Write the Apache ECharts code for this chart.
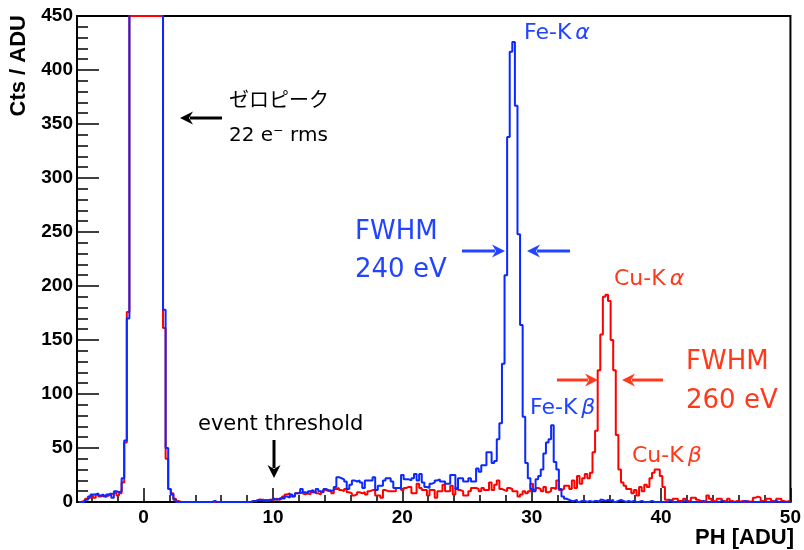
<!DOCTYPE html>
<html>
<head>
<meta charset="utf-8">
<script src="https://cdn.jsdelivr.net/npm/echarts@6/dist/echarts.min.js"></script>
<style>
  html, body { margin: 0; padding: 0; background: #fff; }
  #chart { width: 804px; height: 550px; }
</style>
</head>
<body>
<div id="chart"></div>
<script>
// histogram binning: 0.2 ADU bins, first bin centred at -5.0
const BIN_START = -5.0;
const BIN_WIDTH = 0.2;

// Fe (blue) counts per bin, 5 bins per ADU
const FE_COUNTS = [
  0, 0, 0, 2, 5,        7, 7, 8, 6, 7,           // -5, -4
  5, 7, 8, 4, 10,       9, 10, 22, 57, 170,      // -3, -2
  950, 2300, 3600, 4300, 4600,  4500, 4100, 3500, 2700, 1900, // -1, 0
  1200, 780, 520, 178, 50,      12, 7, 2, 0, 0,  // 1, 2
  0, 0, 0, 0, 0,        0, 0, 0, 0, 0,           // 3, 4
  0, 0, 1, 0, 0,        0, 0, 0, 0, 0,           // 5, 6
  0, 0, 0, 0, 0,        0, 0, 1, 1, 2,           // 7, 8
  2, 1, 2, 1, 2,        3, 2, 3, 4, 3,           // 9, 10
  5, 4, 7, 5, 8,        8, 12, 9, 8, 10,         // 11, 12
  11, 9, 12, 10, 9,     12, 11, 10, 11, 14,      // 13, 14
  23, 22, 21, 19, 12,   16, 20, 19, 20, 18,      // 15, 16
  13, 20, 20, 20, 23,   11, 15, 15, 20, 22,      // 17, 18
  22, 19, 13, 13, 13,   25, 21, 21, 20, 22,      // 19, 20
  26, 20, 26, 18, 14,   13, 17, 18, 20, 21,      // 21, 22
  19, 19, 17, 17, 25,   25, 12, 22, 22, 19,      // 23, 24
  19, 22, 19, 19, 31,   28, 34, 34, 46, 46,      // 25, 26
  36, 38, 58, 73, 128,  210, 338, 417, 426, 367, // 27, 28
  248, 164, 79, 36, 22, 12, 10, 21, 24, 30,      // 29, 30
  45, 55, 58, 71, 37,   30, 12, 5, 3, 2,         // 31, 32
  1, 1, 2, 0, 1,        1, 0, 1, 0, 1,           // 33, 34
  1, 0, 2, 1, 2,        1, 2, 0, 1, 2,           // 35, 36
  1, 0, 1, 0, 1,        0, 0, 1, 0, 0,           // 37, 38
  0, 1, 0, 0, 0,        0, 0, 0, 1, 0,           // 39, 40
  0, 0, 0, 0, 1,        0, 0, 0, 0, 0,           // 41, 42
  0, 1, 0, 0, 0,        0, 0, 0, 1, 0,           // 43, 44
  0, 0, 0, 0, 0,        0, 0, 1, 0, 0,           // 45, 46
  0, 0, 0, 0, 0,        0, 0, 0, 0, 1,           // 47, 48
  0, 0, 0, 0, 0,        0                        // 49, 50
];

// Cu (red) counts per bin; the zero peak is clipped at the frame top (450)
const CU_COUNTS = [
  0, 0, 1, 3, 4,        6, 4, 7, 5, 6,           // -5, -4
  5, 6, 7, 8, 9,        6, 8, 18, 55, 176,       // -3, -2
  450, 450, 450, 450, 450,  450, 450, 450, 450, 450, // -1, 0
  450, 450, 450, 161, 40,   12, 8, 3, 1, 0,      // 1, 2
  0, 0, 0, 0, 0,        0, 0, 0, 0, 0,           // 3, 4
  0, 0, 0, 0, 0,        0, 0, 0, 0, 0,           // 5, 6
  0, 0, 0, 0, 0,        0, 0, 1, 1, 2,           // 7, 8
  2, 2, 1, 2, 2,        2, 3, 2, 3, 5,           // 9, 10
  7, 8, 5, 6, 8,        9, 8, 7, 8, 7,           // 11, 12
  9, 10, 8, 7, 9,       11, 10, 11, 8, 12,       // 13, 14
  13, 11, 10, 12, 9,    8, 6, 7, 9, 8,           // 15, 16
  9, 7, 10, 11, 11,     6, 6, 4, 11, 10,         // 17, 18
  10, 10, 10, 13, 13,   11, 13, 14, 14, 8,       // 19, 20
  8, 17, 13, 11, 11,    6, 11, 11, 4, 10,        // 21, 22
  10, 16, 10, 10, 15,   7, 13, 11, 10, 6,        // 23, 24
  6, 10, 13, 13, 12,    10, 13, 11, 11, 18,      // 25, 26
  11, 16, 20, 12, 11,   10, 13, 12, 10, 10,      // 27, 28
  5, 7, 10, 8, 10,      17, 11, 13, 12, 10,      // 29, 30
  14, 9, 10, 13, 12,    20, 11, 12, 15, 15,      // 31, 32
  12, 20, 13, 24, 17,   22, 26, 22, 27, 46,      // 33, 34
  66, 122, 155, 190, 192,  186, 150, 122, 62, 30, // 35, 36
  18, 15, 12, 12, 8,    11, 6, 14, 10, 16,       // 37, 38
  14, 22, 27, 30, 30,   24, 14, 2, 2, 1,         // 39, 40
  3, 3, 1, 1, 3,        1, 0, 4, 4, 2,           // 41, 42
  1, 0, 0, 6, 3,        1, 0, 3, 3, 1,           // 43, 44
  0, 3, 1, 0, 1,        0, 1, 0, 1, 0,           // 45, 46
  1, 4, 5, 4, 1,        0, 3, 3, 1, 0,           // 47, 48
  3, 3, 1, 0, 1,        0                        // 49, 50
];

// axis ranges and tick labels
const X_MIN = -5.15;
const X_MAX = 50;
const X_MAJOR = [0, 10, 20, 30, 40, 50];
const X_MINOR = [-4, -2, 2, 4, 6, 8, 12, 14, 16, 18, 22, 24, 26, 28,
                 32, 34, 36, 38, 42, 44, 46, 48];
const Y_MIN = 0;
const Y_MAX = 450;
const Y_STEP = 50;

const BLUE = '#0a28ff';
const RED = '#ff0000';
const BLUE_TXT = '#2244ff';
const RED_TXT = '#ff3a1c';
const TXT_FONT = '"DejaVu Sans", "Noto Sans CJK JP", sans-serif';
const AXIS_FONT = '"Liberation Sans", Arial, sans-serif';

function toPoints(counts) {
  return counts.map((c, i) => [BIN_START + i * BIN_WIDTH, c]);
}

function arrow(x1, y1, x2, y2, color) {
  const dx = x2 - x1, dy = y2 - y1;
  const len = Math.hypot(dx, dy);
  const ux = dx / len, uy = dy / len, px = -uy, py = ux;
  const hl = 13, hw = 6.5;
  const bx = x2 - ux * hl, by = y2 - uy * hl;
  return [
    { type: 'line', z: 100,
      shape: { x1: x1, y1: y1, x2: bx + ux * 3, y2: by + uy * 3 },
      style: { stroke: color, lineWidth: 3 } },
    { type: 'polygon', z: 100,
      shape: { points: [[x2, y2], [bx + px * hw, by + py * hw],
                        [bx + ux * 4, by + uy * 4], [bx - px * hw, by - py * hw]] },
      style: { fill: color } }
  ];
}

function label(x, y, text, color, size) {
  return {
    type: 'text', z: 100, x: x, y: y,
    style: { text: text, fill: color, font: size + 'px ' + TXT_FONT,
             textAlign: 'left', textVerticalAlign: 'middle' }
  };
}

function greek(x, y, head, sym, color, size) {
  return {
    type: 'text', z: 100, x: x, y: y,
    style: {
      text: '{a|' + head + '}{g|' + sym + '}',
      textAlign: 'left', textVerticalAlign: 'middle',
      rich: {
        a: { fill: color, fontSize: size, fontFamily: TXT_FONT },
        g: { fill: color, fontSize: size, fontFamily: TXT_FONT, fontStyle: 'italic', padding: [0, 0, 0, 4] }
      }
    }
  };
}

const chart = echarts.init(document.getElementById('chart'), null, { renderer: 'canvas' });

chart.setOption({
  animation: false,
  backgroundColor: '#fff',
  grid: { left: 77, right: 10, top: 16, bottom: 48, show: true,
          borderColor: '#000', borderWidth: 2 },
  xAxis: [
    {
      type: 'value', min: X_MIN, max: X_MAX, position: 'bottom',
      axisLine: { show: true, onZero: false, lineStyle: { color: '#000', width: 2 } },
      axisTick: { show: true, inside: true, length: 14, customValues: X_MAJOR,
                  lineStyle: { color: '#000', width: 1.5 } },
      axisLabel: { customValues: X_MAJOR, color: '#000', fontWeight: 'bold',
                   fontSize: 19, fontFamily: AXIS_FONT, margin: 6 },
      splitLine: { show: false }
    },
    {
      type: 'value', min: X_MIN, max: X_MAX, position: 'bottom', offset: 0,
      axisLine: { show: false, onZero: false },
      axisTick: { show: true, inside: true, length: 7, customValues: X_MINOR,
                  lineStyle: { color: '#000', width: 1.5 } },
      axisLabel: { show: false },
      splitLine: { show: false }
    }
  ],
  yAxis: {
    type: 'value', min: Y_MIN, max: Y_MAX, interval: Y_STEP,
    axisLine: { show: true, onZero: false, lineStyle: { color: '#000', width: 2 } },
    axisTick: { show: true, inside: true, length: 22, lineStyle: { color: '#000', width: 1.5 } },
    minorTick: { show: true, splitNumber: 5, length: 11, lineStyle: { color: '#000', width: 1.5 } },
    axisLabel: { color: '#000', fontWeight: 'bold', fontSize: 19, fontFamily: AXIS_FONT, margin: 4 },
    splitLine: { show: false }
  },
  series: [
    {
      name: 'Cu', type: 'line', step: 'middle', showSymbol: false,
      data: toPoints(CU_COUNTS), clip: true,
      lineStyle: { color: RED, width: 2 }
    },
    {
      name: 'Fe', type: 'line', step: 'middle', showSymbol: false,
      data: toPoints(FE_COUNTS), clip: true,
      lineStyle: { color: BLUE, width: 2 }
    }
  ],
  graphic: [
    // axis titles
    { type: 'text', z: 100, x: 794, y: 538,
      style: { text: 'PH [ADU]', fill: '#000', font: 'bold 22px ' + AXIS_FONT,
               textAlign: 'right', textVerticalAlign: 'middle' } },
    { type: 'text', z: 100, x: 19, y: 15, rotation: Math.PI / 2,
      style: { text: 'Cts / ADU', fill: '#000', font: 'bold 22px ' + AXIS_FONT,
               textAlign: 'right', textVerticalAlign: 'middle' } },
    // zero peak
    label(229, 102, 'ゼロピーク', '#000', 20),
    label(229, 136, '22 e⁻ rms', '#000', 20),
    ...arrow(222, 118, 180, 118, '#000'),
    // threshold
    label(198, 425, 'event threshold', '#000', 21),
    ...arrow(274, 440, 274, 478, '#000'),
    // Fe lines
    greek(524, 33, 'Fe-K', 'α', BLUE_TXT, 22),
    label(355, 232, 'FWHM', BLUE_TXT, 26),
    label(355, 270, '240 eV', BLUE_TXT, 26),
    ...arrow(462, 251, 505, 251, BLUE_TXT),
    ...arrow(570, 251, 527, 251, BLUE_TXT),
    greek(530, 408, 'Fe-K', 'β', BLUE_TXT, 22),
    // Cu lines
    greek(614, 279, 'Cu-K', 'α', RED_TXT, 22),
    label(686, 362, 'FWHM', RED_TXT, 26),
    label(686, 401, '260 eV', RED_TXT, 26),
    ...arrow(557, 380, 598, 380, RED_TXT),
    ...arrow(663, 380, 622, 380, RED_TXT),
    greek(632, 456, 'Cu-K', 'β', RED_TXT, 22)
  ]
});
</script>
</body>
</html>
